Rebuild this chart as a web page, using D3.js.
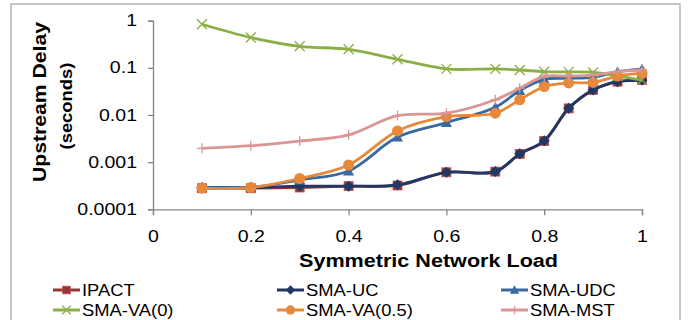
<!DOCTYPE html>
<html><head><meta charset="utf-8">
<script src="https://cdn.jsdelivr.net/npm/d3@7"></script>
<style>
body{margin:0;background:#fff;}
svg{display:block;font-family:"Liberation Sans",Arial,sans-serif;}
</style></head>
<body>
<svg id="chart" width="688" height="320"></svg>
<script>
const loads = [0.1,0.2,0.3,0.4,0.5,0.6,0.7,0.75,0.8,0.85,0.9,0.95,1.0];
const ipact   = [0.00028,0.00028,0.00029,0.00031,0.00032,0.00061,0.00063,0.0015,0.0028,0.0138,0.034,0.051,0.055];
const smaUC   = [0.00029,0.00029,0.00031,0.00031,0.00033,0.00061,0.00063,0.0015,0.00285,0.0139,0.034,0.051,0.055];
const smaUDC  = [0.00029,0.00029,0.00042,0.00065,0.0034,0.0069,0.0146,0.033,0.057,0.060,0.063,0.083,0.094];
const smaVA0  = [0.84,0.44,0.286,0.247,0.152,0.095,0.095,0.090,0.083,0.082,0.080,0.067,0.055];
const smaVA05 = [0.00028,0.00029,0.00045,0.00087,0.0046,0.0092,0.0109,0.021,0.040,0.048,0.049,0.067,0.077];
const smaMST  = [0.00196,0.00223,0.0028,0.0038,0.0097,0.0109,0.021,0.037,0.066,0.067,0.070,0.083,0.090];
const seriesNames = ["IPACT","SMA-UC","SMA-UDC","SMA-VA(0)","SMA-VA(0.5)","SMA-MST"];
const xTicks = [0,0.2,0.4,0.6,0.8,1];
const yTicks = [0.0001,0.001,0.01,0.1,1];

const series = [
  {name:seriesNames[0], values:ipact,   color:"#953735", marker:"square"},
  {name:seriesNames[1], values:smaUC,   color:"#1F3864", marker:"diamond"},
  {name:seriesNames[2], values:smaUDC,  color:"#3A68A0", marker:"triangle"},
  {name:seriesNames[3], values:smaVA0,  color:"#8BAF46", marker:"x"},
  {name:seriesNames[4], values:smaVA05, color:"#E8883A", marker:"circle"},
  {name:seriesNames[5], values:smaMST,  color:"#D99694", marker:"plus"}
];

const svg = d3.select("#chart");
const x = d3.scaleLinear().domain([0,1]).range([153,642]);
const y = d3.scaleLog().domain([0.0001,1]).range([209.3,20.7]);
const axisColor = "#868686";

// outer border
svg.append("rect").attr("x",11).attr("y",4).attr("width",669).attr("height",330)
  .attr("fill","none").attr("stroke","#b3b3b3").attr("stroke-width",1.5);

function stretch(sel, f){
  sel.each(function(){
    const L = this.getComputedTextLength();
    d3.select(this).attr("textLength", L*f).attr("lengthAdjust","spacingAndGlyphs");
  });
}

// y axis
const yAxis = svg.append("g").attr("transform","translate(153,0)")
  .call(d3.axisLeft(y).tickValues(yTicks).tickSize(5).tickPadding(11)
    .tickFormat(d=>String(d)));
// x axis
const xAxis = svg.append("g").attr("transform","translate(0,209.3)")
  .call(d3.axisBottom(x).tickValues(xTicks).tickSize(6).tickPadding(6)
    .tickFormat(d=>String(d)));
[yAxis,xAxis].forEach(a=>{
  a.select(".domain").attr("stroke",axisColor).attr("stroke-width",1.3);
  a.selectAll(".tick line").attr("stroke",axisColor).attr("stroke-width",1.3);
  a.selectAll(".tick text").attr("fill","#000").style("font-size","16px")
    .style("font-family","'Liberation Sans',Arial,sans-serif");
});
stretch(yAxis.selectAll(".tick text"),1.22);
stretch(xAxis.selectAll(".tick text"),1.22);
xAxis.selectAll(".tick text").attr("dy",null).attr("y",33);

// axis titles
svg.append("text").attr("x",428.5).attr("y",267).attr("text-anchor","middle")
  .style("font-size","18px").style("font-weight","bold").text("Symmetric Network Load")
  .attr("textLength",259).attr("lengthAdjust","spacingAndGlyphs");
svg.append("text").attr("transform","translate(46,102) rotate(-90)").attr("text-anchor","middle")
  .style("font-size","19px").style("font-weight","bold").text("Upstream Delay")
  .attr("textLength",160).attr("lengthAdjust","spacingAndGlyphs");
svg.append("text").attr("transform","translate(72,106) rotate(-90)").attr("text-anchor","middle")
  .style("font-size","17px").style("font-weight","bold").text("(seconds)")
  .attr("textLength",87).attr("lengthAdjust","spacingAndGlyphs");

function drawMarker(g, type, cx, cy, color, k){
  k = k || 1;
  const a = 4.5*k, b = 5.5*k, c = 5*k;
  switch(type){
    case "square":
      g.append("rect").attr("x",cx-a).attr("y",cy-a).attr("width",2*a).attr("height",2*a)
        .attr("fill",color).attr("stroke","#c0504d").attr("stroke-width",0.8); break;
    case "diamond":
      g.append("path").attr("d",`M${cx},${cy-b}L${cx+b},${cy}L${cx},${cy+b}L${cx-b},${cy}Z`)
        .attr("fill",color); break;
    case "triangle":
      g.append("path").attr("d",`M${cx},${cy-b}L${cx+b},${cy+a}L${cx-b},${cy+a}Z`)
        .attr("fill",color); break;
    case "circle":
      g.append("circle").attr("cx",cx).attr("cy",cy).attr("r",b).attr("fill",color); break;
    case "x":
      g.append("path").attr("d",`M${cx-c},${cy-c}L${cx+c},${cy+c}M${cx-c},${cy+c}L${cx+c},${cy-c}`)
        .attr("stroke",color).attr("stroke-width",1.3).attr("fill","none"); break;
    case "plus":
      g.append("path").attr("d",`M${cx-c},${cy}L${cx+c},${cy}M${cx},${cy-c}L${cx},${cy+c}`)
        .attr("stroke",color).attr("stroke-width",1.3).attr("fill","none"); break;
  }
}

const line = d3.line().x(d=>x(d[0])).y(d=>y(d[1])).curve(d3.curveCatmullRom.alpha(0.5));
series.forEach(s=>{
  const g = svg.append("g");
  const pts = loads.map((l,i)=>[l,s.values[i]]);
  g.append("path").attr("d",line(pts)).attr("fill","none").attr("stroke",s.color)
    .attr("stroke-width",2.8).attr("stroke-linejoin","round");
  pts.forEach(p=>drawMarker(g,s.marker,x(p[0]),y(p[1]),s.color));
});

// legend
const colX = [53,277,501];
const rowY = [296,316];
series.forEach((s,i)=>{
  const lx = colX[i%3], ly = rowY[Math.floor(i/3)];
  const g = svg.append("g");
  const cy = ly-6;
  g.append("line").attr("x1",lx).attr("x2",lx+27).attr("y1",cy).attr("y2",cy)
    .attr("stroke",s.color).attr("stroke-width",3);
  drawMarker(g,s.marker,lx+13.5,cy,s.color,0.85);
  const t = g.append("text").attr("x",lx+29).attr("y",ly).style("font-size","17px").attr("fill","#000").text(s.name);
  stretch(t,1.08);
});
</script>
</body></html>
